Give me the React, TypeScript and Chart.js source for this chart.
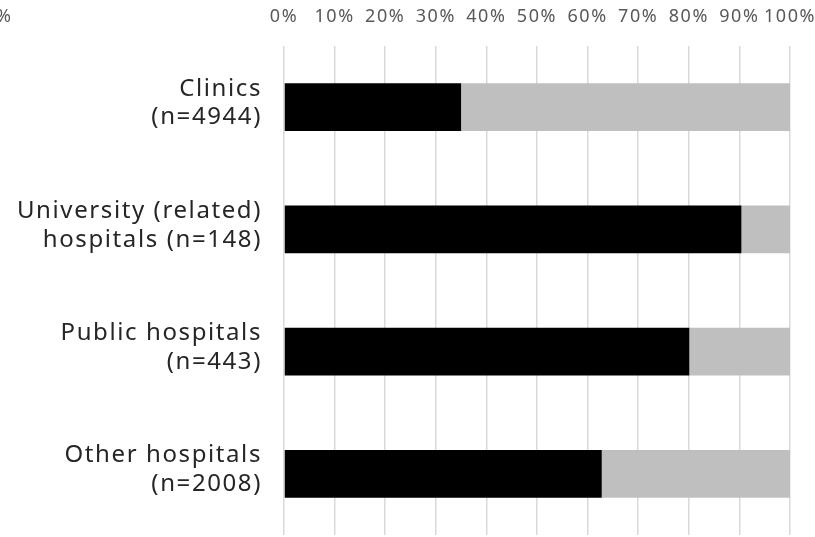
import React, { useEffect, useRef } from "react";
import { Chart, registerables } from "chart.js";

Chart.register(...registerables);

const categories: string[][] = [
  ["Clinics", "(n=4944)"],
  ["University (related)", "hospitals (n=148)"],
  ["Public hospitals", "(n=443)"],
  ["Other hospitals", "(n=2008)"],
];
const seriesYes: number[] = [35.0, 90.4, 80.1, 62.8];
const seriesNo: number[] = [65.0, 9.6, 19.9, 37.2];
const tickValues: number[] = [0, 10, 20, 30, 40, 50, 60, 70, 80, 90, 100];

const FONT = "'Noto Sans', sans-serif";
const SPACING = "1.6px";

const spacingPlugin = {
  id: "spacing",
  beforeUpdate: (chart: any) => {
    chart.ctx.letterSpacing = SPACING;
  },
  beforeDraw: (chart: any) => {
    chart.ctx.letterSpacing = SPACING;
  },
};

export default function App() {
  const ref = useRef<HTMLCanvasElement | null>(null);
  useEffect(() => {
    if (!ref.current) return;
    const chart = new Chart(ref.current, {
      type: "bar",
      plugins: [spacingPlugin],
      data: {
        labels: categories,
        datasets: [
          {
            label: "Yes",
            data: seriesYes,
            backgroundColor: "#000000",
            borderWidth: 0,
            barPercentage: 0.39,
            categoryPercentage: 1,
          },
          {
            label: "No",
            data: seriesNo,
            backgroundColor: "#bfbfbf",
            borderWidth: 0,
            barPercentage: 0.39,
            categoryPercentage: 1,
          },
        ],
      },
      options: {
        indexAxis: "y",
        animation: false,
        responsive: false,
        maintainAspectRatio: false,
        layout: { padding: { left: 0, right: 25, top: 0, bottom: 2 } },
        plugins: {
          legend: { display: false },
          tooltip: { enabled: false },
        },
        scales: {
          x: {
            position: "top",
            stacked: true,
            min: 0,
            max: 100,
            afterBuildTicks: (scale: any) => {
              scale.ticks = tickValues.map((v) => ({ value: v }));
            },
            afterFit: (scale: any) => {
              scale.height = 46;
              scale.paddingLeft = 0;
              scale.paddingRight = 0;
            },
            ticks: {
              callback: (v: any) => v + "%",
              color: "#595959",
              font: { family: FONT, size: 18 },
              padding: 18,
              maxRotation: 0,
              autoSkip: false,
            },
            grid: {
              color: "#d9d9d9",
              lineWidth: 1.5,
              drawTicks: false,
            },
            border: { display: false },
          },
          y: {
            stacked: true,
            afterFit: (scale: any) => {
              scale.width = 284;
              scale.paddingTop = 0;
              scale.paddingBottom = 0;
            },
            ticks: {
              color: "#262626",
              font: { family: FONT, size: 24, lineHeight: 1.2 },
              padding: 14,
              labelOffset: -4,
            },
            grid: { display: false },
            border: { display: false },
          },
        },
      },
    });
    return () => chart.destroy();
  }, []);
  return (
    <div style={{ position: "absolute", left: 0, top: 0, width: 815, height: 537, background: "#fff", overflow: "hidden" }}>
      <canvas ref={ref} width={815} height={537} style={{ display: "block" }} />
      <div
        style={{
          position: "absolute",
          left: -4,
          top: 4,
          fontFamily: FONT,
          fontSize: 18,
          color: "#595959",
          lineHeight: "22px",
        }}
      >
        %
      </div>
    </div>
  );
}
